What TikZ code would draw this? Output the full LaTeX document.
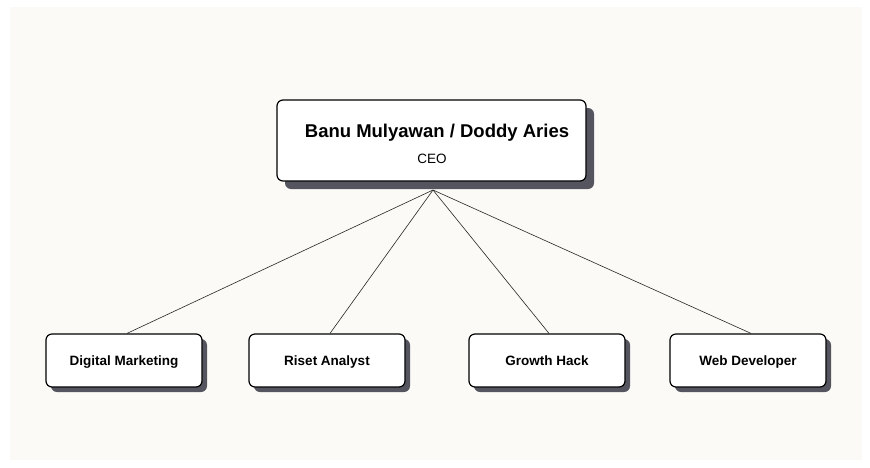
\documentclass[tikz,border=0pt]{standalone}
\usepackage{fontspec}
\setmainfont{Liberation Sans}
\definecolor{bgpaper}{HTML}{FBFAF6}
\definecolor{shadowgray}{HTML}{55555F}
\begin{document}
\begin{tikzpicture}[x=1pt,y=-1pt,
  card/.style={draw=black, line width=1.2pt, rounded corners=6pt, fill=white, inner sep=0pt},
  cardshadow/.style={fill=shadowgray, rounded corners=6pt},
  link/.style={draw=black!85, line width=0.6pt}]
\useasboundingbox (0,0) rectangle (870,467);
\fill[white] (0,0) rectangle (870,467);
\fill[bgpaper] (10,7) rectangle (862,460);
% CEO box
\fill[cardshadow] (285,108) rectangle (594,189);
\node[card, minimum width=309pt, minimum height=81pt] (ceo) at (431.5,140.5) {};
\node[font=\bfseries\fontsize{18.5}{20}\selectfont, anchor=base] (ceoname) at (437,137) {Banu Mulyawan / Doddy Aries};
\node[font=\fontsize{13.5}{15}\selectfont, anchor=base] (ceorole) at (432,163) {CEO};
\coordinate (hub) at (433,190);
% children
\foreach \n/\xl/\t in {dm/46/Digital Marketing, ra/249/Riset Analyst, gh/469/Growth Hack, wd/670/Web Developer}{
  \fill[cardshadow] (\xl+5,339) rectangle (\xl+161,392);
  \node[card, minimum width=156pt, minimum height=53pt, text height=12.6pt, text depth=3pt,
        font=\bfseries\fontsize{13.5}{15}\selectfont] (\n) at (\xl+78,360.5) {\t};
}
\draw[link] (hub) -- ([xshift=3pt]dm.north);
\draw[link] (hub) -- ([xshift=3pt]ra.north);
\draw[link] (hub) -- ([xshift=2pt]gh.north);
\draw[link] (hub) -- ([xshift=3pt]wd.north);
\end{tikzpicture}
\end{document}
